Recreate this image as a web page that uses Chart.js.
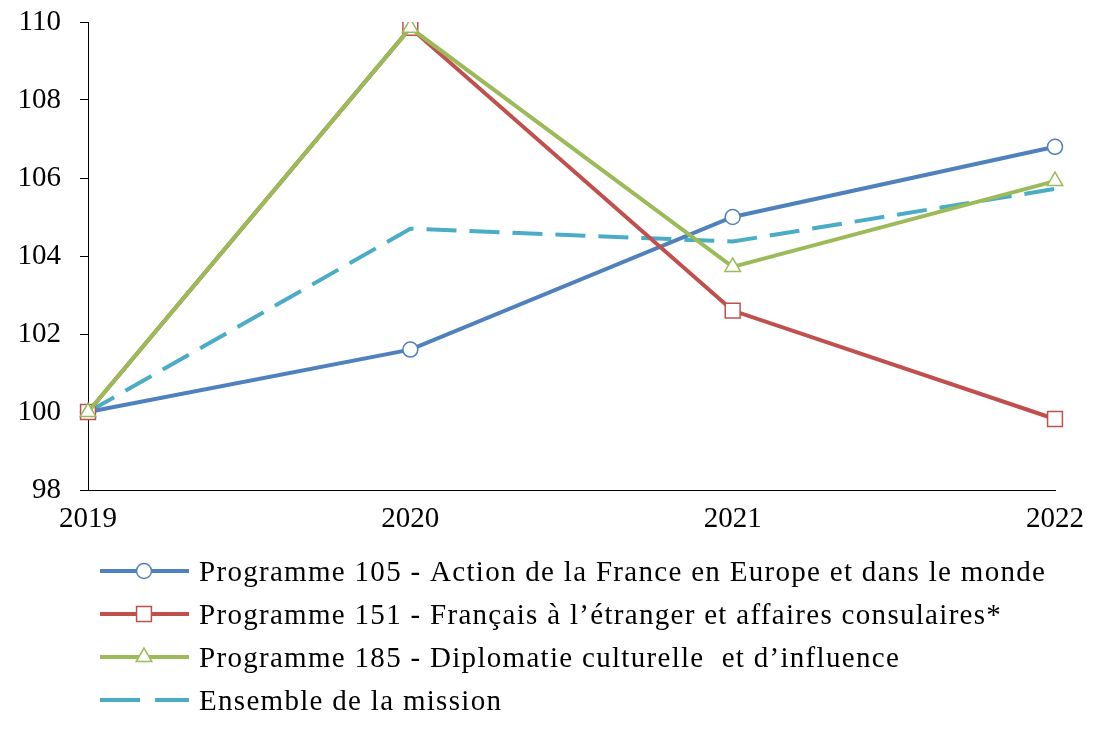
<!DOCTYPE html>
<html>
<head>
<meta charset="utf-8">
<script src="https://cdn.jsdelivr.net/npm/chart.js@4.4.1/dist/chart.umd.min.js"></script>
<style>
  html, body { margin: 0; padding: 0; background: #fff; }
  #wrap { width: 1103px; height: 736px; position: relative; }
</style>
</head>
<body>
<div id="wrap"><canvas id="c" width="1103" height="736"></canvas></div>
<script>
const years = ['2019', '2020', '2021', '2022'];
const yTicks = [98, 100, 102, 104, 106, 108, 110];
const p105 = [100, 101.6, 105.0, 106.8];
const p151 = [100, 109.85, 102.6, 99.82];
const p185 = [100, 109.85, 103.72, 105.92];
const ensemble = [100, 104.7, 104.37, 105.72];

const labels105 = 'Programme 105 - Action de la France en Europe et dans le monde';
const labels151 = 'Programme 151 - Français à l’étranger et affaires consulaires*';
const labels185 = 'Programme 185 - Diplomatie culturelle  et d’influence';
const labelsEns = 'Ensemble de la mission';

const FONT = '"Liberation Serif", "Times New Roman", serif';
const FSIZE = 29;

const legendPlugin = {
  id: 'customLegend',
  afterDraw(chart) {
    const ctx = chart.ctx;
    const rows = [571, 614, 657, 700];
    const x0 = 100, x1 = 189, xm = 144, xt = 199;
    chart.data.datasets.forEach((ds, i) => {
      const y = rows[ds.legendRow];
      ctx.save();
      ctx.strokeStyle = ds.borderColor;
      ctx.lineWidth = ds.borderWidth;
      ctx.setLineDash(ds.legendDash || []);
      ctx.beginPath();
      ctx.moveTo(x0, y);
      ctx.lineTo(x1, y);
      ctx.stroke();
      ctx.setLineDash([]);
      if (ds.pointRadius > 0) {
        ctx.fillStyle = ds.pointBackgroundColor;
        ctx.strokeStyle = ds.pointBorderColor;
        ctx.lineWidth = ds.pointBorderWidth;
        Chart.helpers.drawPoint(ctx, {pointStyle: ds.pointStyle, radius: ds.pointRadius, borderWidth: ds.pointBorderWidth}, xm, y);
      }
      ctx.fillStyle = '#000';
      ctx.font = FSIZE + 'px ' + FONT;
      ctx.letterSpacing = '1.3px';
      ctx.textBaseline = 'middle';
      ctx.textAlign = 'left';
      ctx.fillText(ds.label, xt, y + 2);
      ctx.restore();
    });
  }
};

new Chart(document.getElementById('c'), {
  type: 'line',
  data: {
    labels: years,
    datasets: [
      { label: labelsEns, data: ensemble, borderColor: '#4BACC6', borderWidth: 4, borderDash: [30, 13], legendDash: [40, 15],
        pointRadius: 0, fill: false, order: 4, legendRow: 3 },
      { label: labels105, data: p105, borderColor: '#4F81BD', borderWidth: 4,
        pointStyle: 'circle', pointRadius: 7.5, pointBackgroundColor: '#fff', pointBorderColor: '#4F81BD', pointBorderWidth: 1.5,
        fill: false, order: 3, legendRow: 0 },
      { label: labels151, data: p151, borderColor: '#C0504D', borderWidth: 4,
        pointStyle: 'rect', pointRadius: 10.5, pointBackgroundColor: '#fff', pointBorderColor: '#C0504D', pointBorderWidth: 1.5,
        fill: false, order: 2, legendRow: 1 },
      { label: labels185, data: p185, borderColor: '#9BBB59', borderWidth: 4,
        pointStyle: 'triangle', pointRadius: 9, pointBackgroundColor: '#fff', pointBorderColor: '#9BBB59', pointBorderWidth: 1.5,
        fill: false, order: 1, legendRow: 2 }
    ]
  },
  options: {
    responsive: false,
    animation: false,
    layout: { padding: { left: 0, right: 48, top: 22, bottom: 0 } },
    plugins: { legend: { display: false }, tooltip: { enabled: false } },
    elements: { line: { tension: 0 } },
    scales: {
      x: {
        type: 'category',
        offset: false,
        grid: { display: false, drawTicks: false, tickLength: 0 },
        border: { display: true, color: '#000', width: 1 },
        ticks: { color: '#000', font: { family: FONT, size: FSIZE }, padding: 12, maxRotation: 0, autoSkip: false },
        afterFit(s) { s.height = 246; s.paddingLeft = 0; s.paddingRight = 0; }
      },
      y: {
        min: 98, max: 110,
        afterBuildTicks(s) { s.ticks = yTicks.map(v => ({ value: v })); },
        grid: { display: true, drawOnChartArea: false, drawTicks: true, tickLength: 8, color: '#000', lineWidth: 1 },
        border: { display: true, color: '#000', width: 1 },
        ticks: { color: '#000', font: { family: FONT, size: FSIZE }, padding: 19 },
        afterFit(s) { s.width = 88; s.paddingTop = 0; s.paddingBottom = 0; }
      }
    }
  },
  plugins: [legendPlugin]
});
</script>
</body>
</html>
